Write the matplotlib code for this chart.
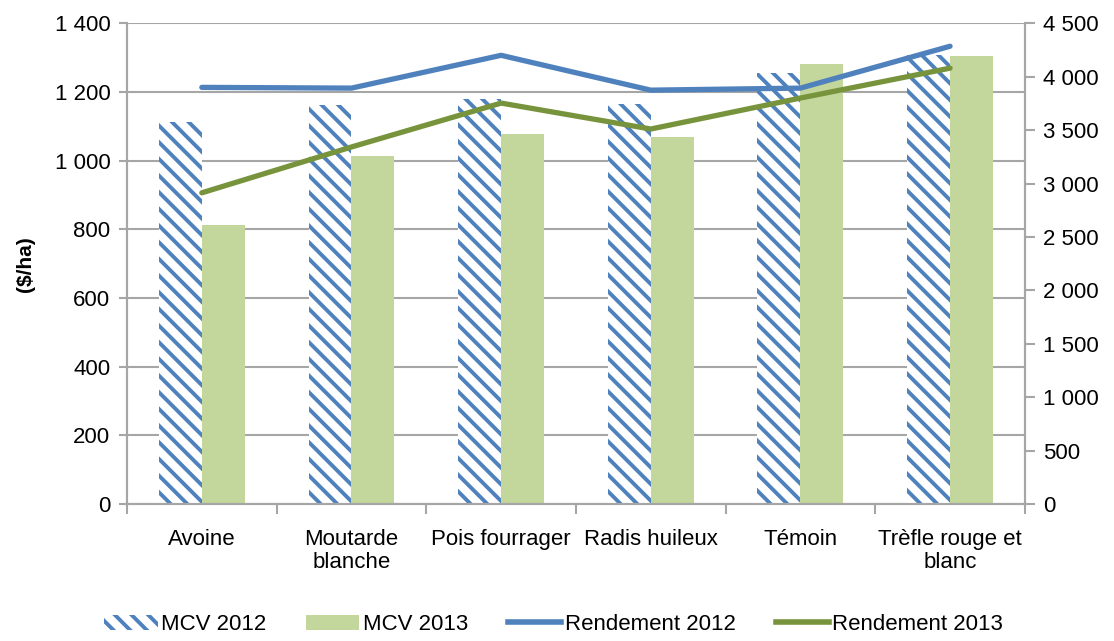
import matplotlib.pyplot as plt
import numpy as np
from matplotlib.lines import Line2D
from matplotlib.patches import Patch
from matplotlib.ticker import FuncFormatter, MultipleLocator

plt.rcParams["font.family"] = ["Liberation Sans", "DejaVu Sans"]
plt.rcParams["hatch.linewidth"] = 2.8

categories = ["Avoine", "Moutarde\nblanche", "Pois fourrager", "Radis huileux",
              "Témoin", "Trèfle rouge et\nblanc"]
mcv_2012 = [1112, 1162, 1179, 1165, 1255, 1307]
mcv_2013 = [813, 1014, 1078, 1069, 1281, 1304]
rend_2012 = [3900, 3893, 4200, 3874, 3893, 4285]
rend_2013 = [2913, 3342, 3753, 3510, 3800, 4080]

BLUE = "#4F81BD"
GREEN_BAR = "#C3D69B"
GREEN_LINE = "#77933C"
GRID = "#A6A6A6"


def space_thousands(v, _pos):
    return f"{int(v):,}".replace(",", " ")


fig = plt.figure(figsize=(11.14, 6.41), dpi=100)
ax = fig.add_axes([0.114, 0.2137, 0.806, 0.750])
ax2 = ax.twinx()

x = np.arange(len(categories))
w = 0.287

ax.bar(x - w / 2, mcv_2012, w, facecolor="white", edgecolor=BLUE,
       hatch="\\\\", linewidth=0, zorder=2)
ax.bar(x + w / 2, mcv_2013, w, color=GREEN_BAR, linewidth=0, zorder=2)

ax2.plot(x, rend_2012, color=BLUE, lw=3.8, solid_capstyle="round")
ax2.plot(x, rend_2013, color=GREEN_LINE, lw=3.8, solid_capstyle="round")

ax.set_xlim(-0.5, len(categories) - 0.5)
ax.set_ylim(0, 1400)
ax2.set_ylim(0, 4500)

ax.yaxis.set_major_locator(MultipleLocator(200))
ax.yaxis.set_major_formatter(FuncFormatter(space_thousands))
ax2.yaxis.set_major_locator(MultipleLocator(500))
ax2.yaxis.set_major_formatter(FuncFormatter(space_thousands))

ax.yaxis.grid(True, color=GRID, lw=1.5)
ax.set_axisbelow(True)

# category boundaries as major ticks, labels on minor ticks
ax.set_xticks(np.arange(-0.5, len(categories), 1.0))
ax.set_xticklabels([])
ax.set_xticks(x, minor=True)
ax.set_xticklabels(categories, minor=True, fontsize=16, linespacing=1.15)
ax.tick_params(axis="x", which="major", length=7, width=1.5, color=GRID)
ax.tick_params(axis="x", which="minor", length=0, pad=18)
ax.tick_params(axis="y", length=6, width=1.5, color=GRID, labelsize=16, pad=6)
ax2.tick_params(axis="y", length=7, width=1.5, color=GRID, labelsize=16, pad=6)

for a in (ax, ax2):
    for side in ("left", "right", "bottom", "top"):
        a.spines[side].set_color(GRID)
        a.spines[side].set_linewidth(1.5)
ax.spines["top"].set_visible(False)
ax2.spines["top"].set_visible(False)

ax.set_ylabel("($/ha)", fontsize=15, fontweight="bold", labelpad=14)

handles = [
    Patch(facecolor="white", edgecolor=BLUE, hatch="\\\\", linewidth=0),
    Patch(facecolor=GREEN_BAR, linewidth=0),
    Line2D([], [], color=BLUE, lw=4),
    Line2D([], [], color=GREEN_LINE, lw=4),
]
labels = ["MCV 2012", "MCV 2013", "Rendement 2012", "Rendement 2013"]
fig.legend(handles, labels, loc="lower center", bbox_to_anchor=(0.497, -0.022),
           ncol=4, frameon=False, fontsize=16, columnspacing=1.8,
           handlelength=2.4, handletextpad=0.15)

fig.savefig("out.png", dpi=100)
